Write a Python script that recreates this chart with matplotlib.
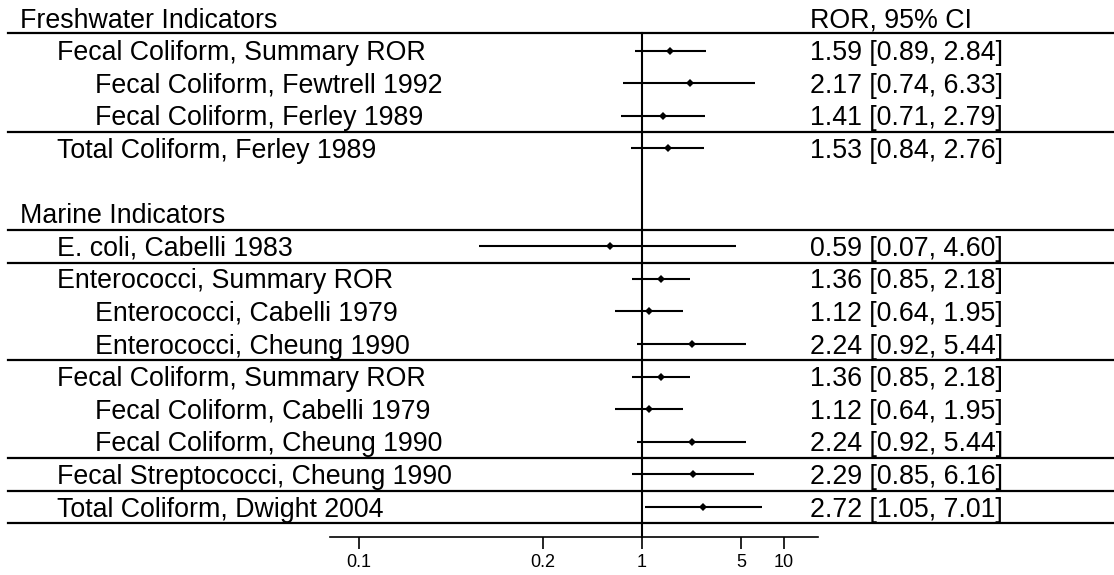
import numpy as np
import matplotlib
matplotlib.use("Agg")
import matplotlib.pyplot as plt
import matplotlib.transforms as mtransforms

plt.rcParams['font.family'] = ['Liberation Sans', 'DejaVu Sans']

# data
fresh_labels = ["Fecal Coliform, Summary ROR", "Fecal Coliform, Fewtrell 1992",
                "Fecal Coliform, Ferley 1989", "Total Coliform, Ferley 1989"]
fresh_level = [1, 2, 2, 1]
fresh_ror = [1.59, 2.17, 1.41, 1.53]
fresh_lo = [0.89, 0.74, 0.71, 0.84]
fresh_hi = [2.84, 6.33, 2.79, 2.76]

marine_labels = ["E. coli, Cabelli 1983", "Enterococci, Summary ROR",
                 "Enterococci, Cabelli 1979", "Enterococci, Cheung 1990",
                 "Fecal Coliform, Summary ROR", "Fecal Coliform, Cabelli 1979",
                 "Fecal Coliform, Cheung 1990", "Fecal Streptococci, Cheung 1990",
                 "Total Coliform, Dwight 2004"]
marine_level = [1, 1, 2, 2, 1, 2, 2, 1, 1]
marine_ror = [0.59, 1.36, 1.12, 2.24, 1.36, 1.12, 2.24, 2.29, 2.72]
marine_lo = [0.07, 0.85, 0.64, 0.92, 0.85, 0.64, 0.92, 0.85, 1.05]
marine_hi = [4.60, 2.18, 1.95, 5.44, 2.18, 1.95, 5.44, 6.16, 7.01]

# groups that get a rule under them (index of last row in each block)
fresh_breaks = [2]
marine_breaks = [0, 3, 6, 7, 8]

tick_pos = [0.01, 0.2, 1, 5, 10]
tick_lab = ["0.1", "0.2", "1", "5", "10"]
axis_lo, axis_hi = 0.0062, 17.5

W, H = 1114, 575
fig = plt.figure(figsize=(W / 100, H / 100), dpi=100)
ax = fig.add_axes([0, 0, 1, 1])
ax.set_xscale('log')

px_dec = 141.5
x_one = 642
ax.set_xlim(10 ** (-x_one / px_dec), 10 ** ((W - x_one) / px_dec))
row_px = 32.6
top_px = 18
ax.set_ylim((H - top_px) / row_px, -top_px / row_px)

# row layout
fresh_head = 0
fresh_rows = np.arange(len(fresh_labels)) + fresh_head + 1
marine_head = fresh_rows[-1] + 2
marine_rows = np.arange(len(marine_labels)) + marine_head + 1
axis_y = marine_rows[-1] + 0.91

rows = np.concatenate([fresh_rows, marine_rows])
labels = fresh_labels + marine_labels
levels = fresh_level + marine_level
ror = np.array(fresh_ror + marine_ror)
lo = np.array(fresh_lo + marine_lo)
hi = np.array(fresh_hi + marine_hi)

fs = 19.3
cap = 0.716 * fs
blend = mtransforms.blended_transform_factory(ax.transAxes, ax.transData)
txt_tr = mtransforms.offset_copy(blend, fig=fig, y=-cap / 2, units='points')
indent_px = {0: 20, 1: 57, 2: 95}
col_px = 810

def put(xpx, y, s):
    ax.text(xpx / W, y, s, transform=txt_tr, fontsize=fs, va='baseline', ha='left')

put(indent_px[0], fresh_head, "Freshwater Indicators")
put(col_px, fresh_head, "ROR, 95% CI")
put(indent_px[0], marine_head, "Marine Indicators")
for r, s, lv, e, l, h in zip(rows, labels, levels, ror, lo, hi):
    put(indent_px[lv], r, s)
    put(col_px, r, "%.2f [%.2f, %.2f]" % (e, l, h))

# rules
seps = [fresh_head + 0.46] + [fresh_rows[i] + 0.5 for i in fresh_breaks]
seps += [marine_head + 0.5] + [marine_rows[i] + 0.5 for i in marine_breaks]
for s in seps:
    ax.axhline(s, xmin=8 / W, xmax=1, color='black', lw=1.6)

ax.plot([1, 1], [fresh_head + 0.46, axis_y], color='black', lw=1.5)

ax.hlines(rows, lo, hi, color='black', lw=1.5)
ax.plot(ror, rows, 'D', color='black', ms=4.0, mew=0)

for side in ['top', 'left', 'right']:
    ax.spines[side].set_visible(False)
ax.spines['bottom'].set_position(('data', axis_y))
ax.spines['bottom'].set_bounds(axis_lo, axis_hi)
ax.spines['bottom'].set_linewidth(1.2)
ax.set_xticks(tick_pos)
ax.set_xticklabels(tick_lab)
ax.xaxis.set_minor_locator(matplotlib.ticker.NullLocator())
ax.tick_params(axis='x', direction='out', length=8.3, width=1.2, labelsize=13, pad=4)
ax.set_yticks([])
ax.patch.set_alpha(0)

fig.savefig("out.png", dpi=100, facecolor='white')
